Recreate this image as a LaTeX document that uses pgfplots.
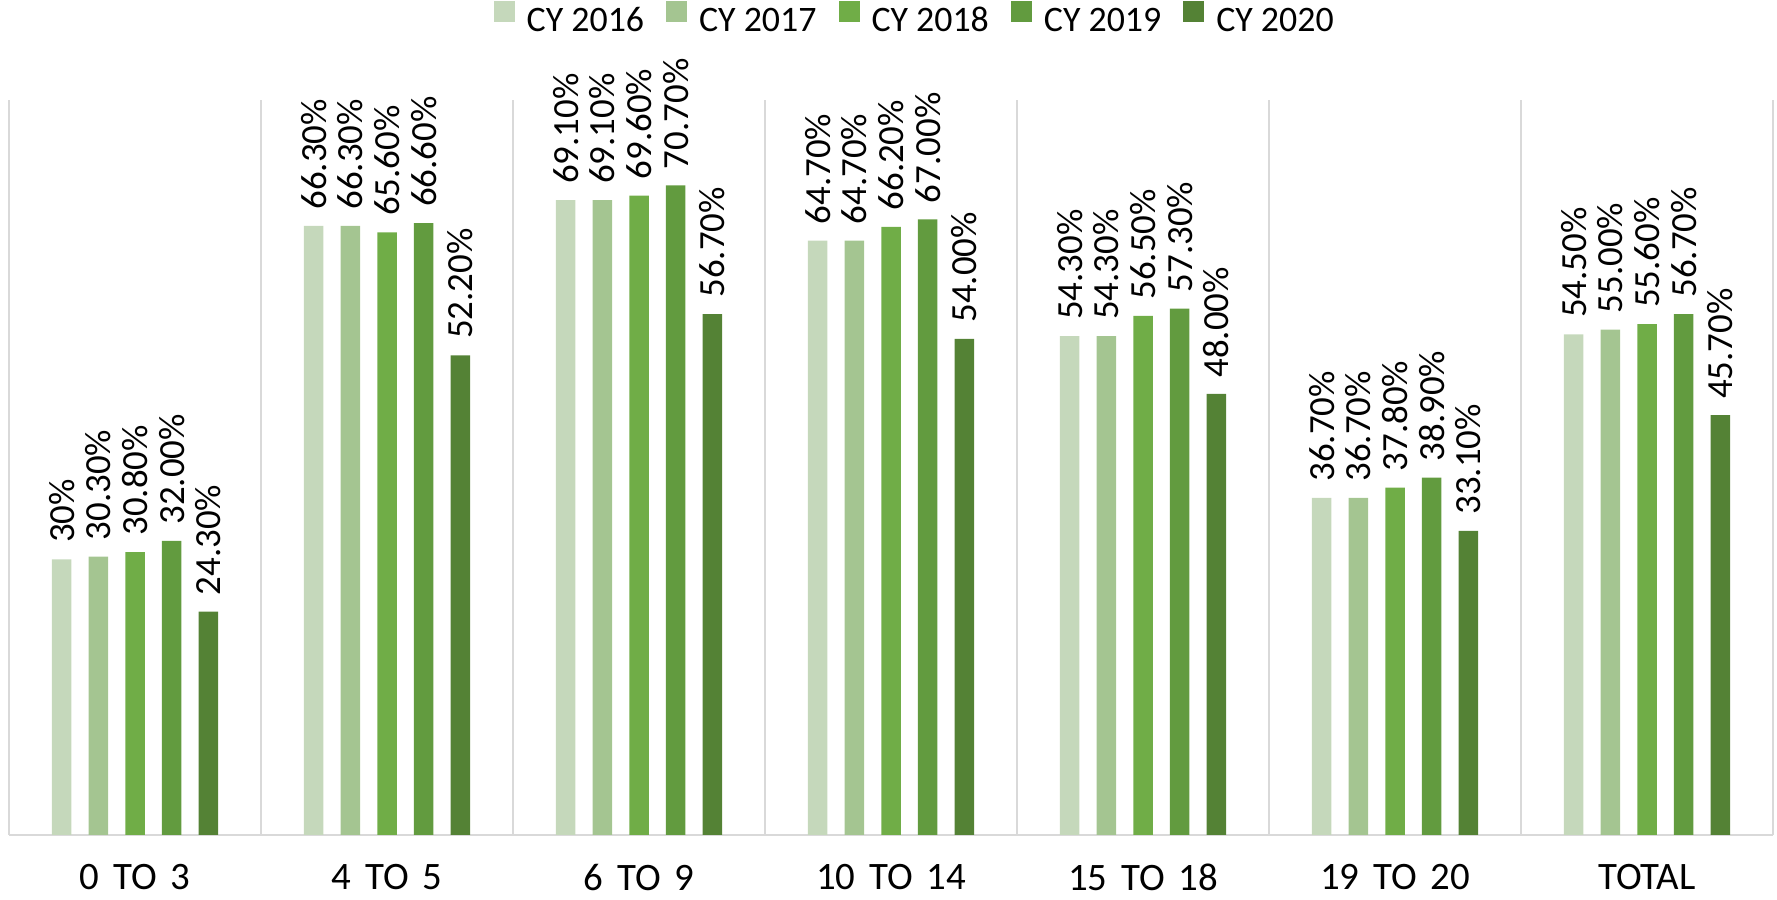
\documentclass[border=0pt]{standalone}
\usepackage{fontspec}
\setmainfont{Carlito}
\usepackage{pgfplots}
\pgfplotsset{compat=1.18}
\usetikzlibrary{calc}
\definecolor{cA}{HTML}{C5D8BB}
\definecolor{cB}{HTML}{A4C591}
\definecolor{cC}{HTML}{70AD47}
\definecolor{cD}{HTML}{629B3F}
\definecolor{cE}{HTML}{548235}
\definecolor{gridc}{HTML}{D9D9D9}
\newcommand{\wsp}{\hspace{2.5bp} }
\begin{document}
\begin{tikzpicture}
\begin{axis}[
  width=882bp, height=367.5bp, scale only axis,
  xmin=-0.5, xmax=6.5, ymin=0, ymax=80,
  ybar=8.6bp, bar width=9.75bp,
  clip=false,
  axis y line=none, axis x line*=bottom,
  x axis line style={draw=gridc, line width=1bp},
  xtick={0,...,6},
  xticklabels={0\wsp TO\wsp 3, 4\wsp TO\wsp 5, 6\wsp TO\wsp 9, 10\wsp TO\wsp 14, 15\wsp TO\wsp 18, 19\wsp TO\wsp 20, TOTAL},
  major tick length=0pt, minor tick length=0pt,
  minor xtick={-0.5,0.5,...,6.5}, xminorgrids,
  minor grid style={draw=gridc, line width=0.8bp},
  xticklabel style={font=\fontsize{19.5}{22}\selectfont, yshift=-11bp},
  nodes near coords, point meta=explicit symbolic,
  nodes near coords style={font=\fontsize{18.5}{20}\selectfont, rotate=90, anchor=west, inner xsep=8bp, inner ysep=0pt, text=black},
  every axis plot/.append style={draw=none},
  legend image code/.code={\fill[#1] (0bp,-0.5bp) rectangle (10.5bp,10bp);},
  legend style={draw=none, legend columns=5, at={(0.514,1.109)}, anchor=center,
    font=\fontsize{18}{20}\selectfont,
    /tikz/every odd column/.append style={column sep=4bp},
    /tikz/every even column/.append style={column sep=9bp}},
]
\addplot[fill=cA] coordinates {(0,30) [30\%] (1,66.3) [66.30\%] (2,69.1) [69.10\%] (3,64.7) [64.70\%] (4,54.3) [54.30\%] (5,36.7) [36.70\%] (6,54.5) [54.50\%]};
\addplot[fill=cB] coordinates {(0,30.3) [30.30\%] (1,66.3) [66.30\%] (2,69.1) [69.10\%] (3,64.7) [64.70\%] (4,54.3) [54.30\%] (5,36.7) [36.70\%] (6,55.0) [55.00\%]};
\addplot[fill=cC] coordinates {(0,30.8) [30.80\%] (1,65.6) [65.60\%] (2,69.6) [69.60\%] (3,66.2) [66.20\%] (4,56.5) [56.50\%] (5,37.8) [37.80\%] (6,55.6) [55.60\%]};
\addplot[fill=cD] coordinates {(0,32.0) [32.00\%] (1,66.6) [66.60\%] (2,70.7) [70.70\%] (3,67.0) [67.00\%] (4,57.3) [57.30\%] (5,38.9) [38.90\%] (6,56.7) [56.70\%]};
\addplot[fill=cE] coordinates {(0,24.3) [24.30\%] (1,52.2) [52.20\%] (2,56.7) [56.70\%] (3,54.0) [54.00\%] (4,48.0) [48.00\%] (5,33.1) [33.10\%] (6,45.7) [45.70\%]};
\legend{CY 2016, CY 2017, CY 2018, CY 2019, CY 2020}
\end{axis}
\pgfresetboundingbox
\path ($(current axis.south west)+(-4.5bp,-32.5bp)$) rectangle ($(current axis.north east)+(2bp,50bp)$);
\end{tikzpicture}
\end{document}
